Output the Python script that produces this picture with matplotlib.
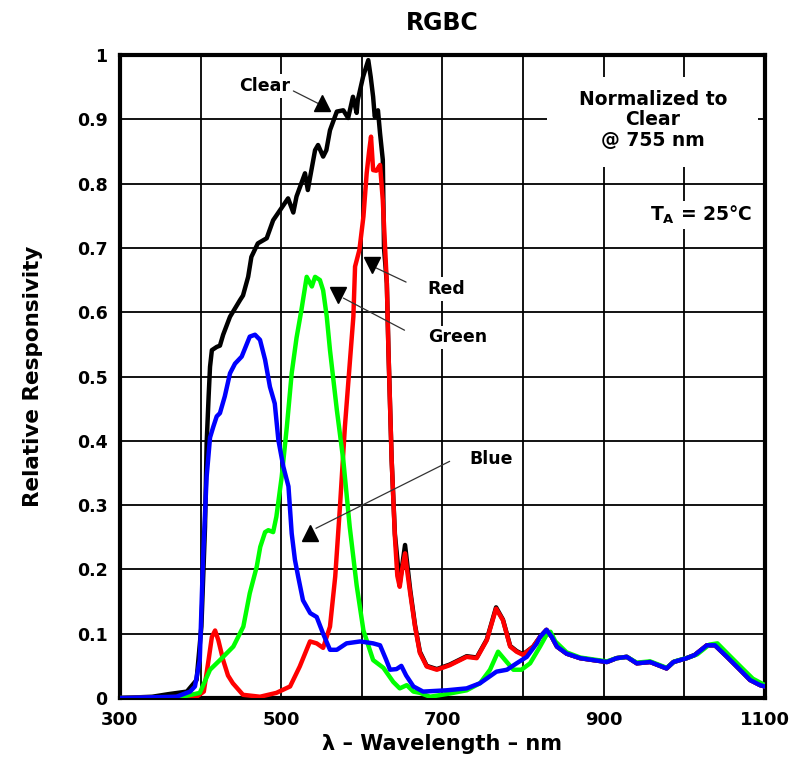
import matplotlib
matplotlib.use("Agg")
import matplotlib.pyplot as plt
from matplotlib.patches import Rectangle
import numpy as np

plt.rcParams["font.family"] = "DejaVu Sans"
plt.rcParams["mathtext.default"] = "bf"

# shared long-wavelength tail (all four channels overlap here)
tail_nm  = [821, 829, 835.6, 842, 854, 870.7, 887, 904, 916, 928.6, 941, 957.6,
            978, 986.5, 1003, 1013, 1028, 1038, 1053, 1069, 1081.6, 1094, 1100]
tail_val = [0.095, 0.106, 0.095, 0.080, 0.069, 0.062, 0.059, 0.056, 0.062, 0.064,
            0.054, 0.056, 0.046, 0.056, 0.062, 0.067, 0.082, 0.082, 0.064, 0.044,
            0.028, 0.020, 0.018]

clear_nm  = [300, 340, 360, 383, 395, 401, 405.5, 407.5, 410, 411.7, 414, 420, 424,
             428, 436.5, 449, 452.6, 459, 463, 471, 482, 490, 496, 508.5, 515, 519,
             529.5, 533, 536, 542, 545.7, 552, 556, 560.5, 569, 577, 583, 589, 593.6,
             595, 601.5, 608, 611, 614, 616, 620, 622.6, 626, 627.5, 631, 633, 637,
             641, 647, 653.6, 660, 666, 672, 680.5, 693, 709, 730, 742.5, 755, 766.5,
             775, 784, 792, 800, 812.6]
clear_val = [0, 0.002, 0.006, 0.010, 0.028, 0.111, 0.266, 0.396, 0.47, 0.515, 0.541,
             0.546, 0.548, 0.565, 0.593, 0.619, 0.626, 0.655, 0.686, 0.707, 0.715,
             0.743, 0.754, 0.777, 0.755, 0.780, 0.816, 0.790, 0.811, 0.852, 0.860,
             0.842, 0.852, 0.883, 0.912, 0.914, 0.902, 0.935, 0.910, 0.930, 0.966,
             0.992, 0.966, 0.935, 0.904, 0.914, 0.878, 0.837, 0.70, 0.645, 0.541,
             0.37, 0.255, 0.178, 0.238, 0.168, 0.113, 0.072, 0.050, 0.045, 0.052,
             0.065, 0.063, 0.091, 0.141, 0.122, 0.081, 0.073, 0.068, 0.080]

red_nm  = [300, 395, 404, 410, 414, 418, 422, 428, 434, 440, 452.6, 473.7, 494, 511,
           523, 535.7, 544, 552, 560.5, 567, 573, 579, 585, 589.5, 591.6, 597, 602,
           606, 609, 611.4, 614, 618, 622.6, 626, 631, 633, 637, 641, 644, 647, 650,
           653.6, 656, 660, 666, 672, 680.5, 693, 709, 730, 742.5, 755, 766.5, 775,
           784, 792, 800, 812.6]
red_val = [0, 0.002, 0.010, 0.060, 0.095, 0.105, 0.090, 0.059, 0.035, 0.023, 0.005,
           0.002, 0.008, 0.018, 0.049, 0.088, 0.085, 0.078, 0.111, 0.189, 0.300,
           0.422, 0.520, 0.593, 0.671, 0.697, 0.749, 0.816, 0.850, 0.873, 0.821,
           0.820, 0.829, 0.774, 0.645, 0.540, 0.370, 0.251, 0.190, 0.173, 0.200,
           0.225, 0.200, 0.163, 0.111, 0.070, 0.049, 0.044, 0.051, 0.064, 0.062,
           0.090, 0.139, 0.121, 0.080, 0.072, 0.067, 0.080]

green_nm  = [300, 370, 399, 411.7, 424, 440.6, 453, 461, 469.6, 474, 480, 484, 490,
             494, 500.6, 507, 513, 519, 525, 531.6, 538, 542, 548, 552, 556.5, 560.5,
             569, 577, 585, 593.6, 602, 614, 626.7, 639, 647, 655.7, 664, 672, 684.6,
             709, 730, 746.6, 759, 769, 777.7, 788, 798, 808.7, 821, 829, 834, 840,
             854, 870.7, 887, 904, 916, 928.6, 941, 957.6, 978, 988, 1005, 1016,
             1031, 1041, 1056, 1072, 1085, 1097, 1100]
green_val = [0, 0, 0.008, 0.044, 0.059, 0.080, 0.111, 0.163, 0.204, 0.235, 0.258,
             0.261, 0.258, 0.282, 0.344, 0.422, 0.505, 0.560, 0.603, 0.655, 0.640,
             0.655, 0.650, 0.634, 0.593, 0.541, 0.448, 0.370, 0.266, 0.175, 0.105,
             0.059, 0.047, 0.025, 0.015, 0.020, 0.010, 0.008, 0.002, 0.007, 0.012,
             0.023, 0.044, 0.072, 0.059, 0.044, 0.044, 0.054, 0.080, 0.098, 0.103,
             0.088, 0.071, 0.063, 0.060, 0.057, 0.062, 0.064, 0.055, 0.057, 0.047,
             0.057, 0.063, 0.068, 0.083, 0.085, 0.066, 0.046, 0.030, 0.022, 0.020]

blue_nm  = [300, 370, 387, 393, 399, 403, 407.5, 411.7, 415.8, 420, 424, 430, 436.5,
            442.7, 451, 461, 467.5, 473.7, 480, 486, 492, 496.5, 502.6, 509, 513,
            517, 521, 527, 536, 544, 552, 560.5, 569, 581, 598, 614, 622.6, 630, 635,
            643, 649, 655, 664, 676, 705, 730, 746.6, 767, 780, 792, 804.6, 817]
blue_val = [0, 0.002, 0.010, 0.018, 0.059, 0.215, 0.344, 0.405, 0.422, 0.438, 0.443,
            0.469, 0.505, 0.520, 0.531, 0.562, 0.565, 0.557, 0.526, 0.484, 0.458,
            0.401, 0.360, 0.329, 0.256, 0.215, 0.189, 0.152, 0.132, 0.126, 0.100,
            0.075, 0.075, 0.085, 0.088, 0.085, 0.082, 0.060, 0.044, 0.045, 0.050,
            0.035, 0.018, 0.010, 0.012, 0.015, 0.023, 0.041, 0.044, 0.054, 0.064,
            0.085]

x_grid = np.arange(300, 1101, 100)
x_labels = ["300", "", "500", "", "700", "", "900", "", "1100"]
y_grid = np.round(np.arange(0, 1.01, 0.1), 1)
y_labels = ["0", "0.1", "0.2", "0.3", "0.4", "0.5", "0.6", "0.7", "0.8", "0.9", "1"]

fig = plt.figure(figsize=(7.95, 7.8), dpi=100)
ax = fig.add_axes([0.1509, 0.1051, 0.8113, 0.8244])
ax.set_xlim(300, 1100)
ax.set_ylim(0, 1)

ax.set_xticks(x_grid)
ax.set_xticklabels(x_labels, fontsize=13, fontweight="bold")
ax.set_yticks(y_grid)
ax.set_yticklabels(y_labels, fontsize=12.5, fontweight="bold")
ax.tick_params(length=0, pad=9)
ax.grid(True, color="black", lw=1.3, zorder=1)
ax.set_axisbelow(True)
for sp in ax.spines.values():
    sp.set_linewidth(3)

style = dict(lw=3.2, solid_joinstyle="round", solid_capstyle="round")
ax.plot(clear_nm + tail_nm, clear_val + tail_val, color="black", zorder=3, **style)
ax.plot(red_nm + tail_nm, red_val + tail_val, color="#ff0000", zorder=4, **style)
ax.plot(green_nm, green_val, color="#00ff00", zorder=5, **style)
ax.plot(blue_nm + tail_nm, blue_val + tail_val, color="#0000ff", zorder=6, **style)

lab = dict(fontsize=12.5, fontweight="bold", ha="center", va="center", zorder=7,
           bbox=dict(facecolor="white", edgecolor="none", pad=2))
line = dict(arrowstyle="-", lw=0.9, color="#333333")

# callouts: text, leader line, triangle head
ax.text(480, 0.952, "Clear", **lab)
ax.annotate("", xy=(550, 0.922), xytext=(512, 0.946), arrowprops=line, zorder=7)
ax.plot(550, 0.925, marker="^", ms=11, color="black", zorder=8)

ax.text(704.5, 0.636, "Red", **lab)
ax.annotate("", xy=(614, 0.671), xytext=(658, 0.645), arrowprops=line, zorder=7)
ax.plot(612, 0.673, marker="v", ms=11, color="black", zorder=8)

ax.text(718.7, 0.561, "Green", **lab)
ax.annotate("", xy=(574, 0.624), xytext=(656, 0.570), arrowprops=line, zorder=7)
ax.plot(571, 0.627, marker="v", ms=11, color="black", zorder=8)

ax.text(760.3, 0.372, "Blue", **lab)
ax.annotate("", xy=(540, 0.262), xytext=(712, 0.370), arrowprops=line, zorder=7)
ax.plot(535.7, 0.257, marker="^", ms=11, color="black", zorder=8)

# white panel behind the normalisation note
ax.add_patch(Rectangle((830, 0.826), 262, 0.14, facecolor="white",
                       edgecolor="none", zorder=2))
ax.text(961, 0.899, "Normalized to\nClear\n@ 755 nm", fontsize=13.5,
        fontweight="bold", ha="center", va="center", linespacing=1.1, zorder=7)
ax.text(1084, 0.751, r"T$_{A}$ = 25°C", fontsize=13.5, fontweight="bold",
        ha="right", va="center", zorder=7,
        bbox=dict(facecolor="white", edgecolor="none", pad=2))

ax.set_title("RGBC", fontsize=17, fontweight="bold", pad=18)
ax.set_xlabel("λ – Wavelength – nm", fontsize=15, fontweight="bold", labelpad=4)
ax.set_ylabel("Relative Responsivity", fontsize=15.5, fontweight="bold", labelpad=24)

fig.savefig("out.png", dpi=100)
